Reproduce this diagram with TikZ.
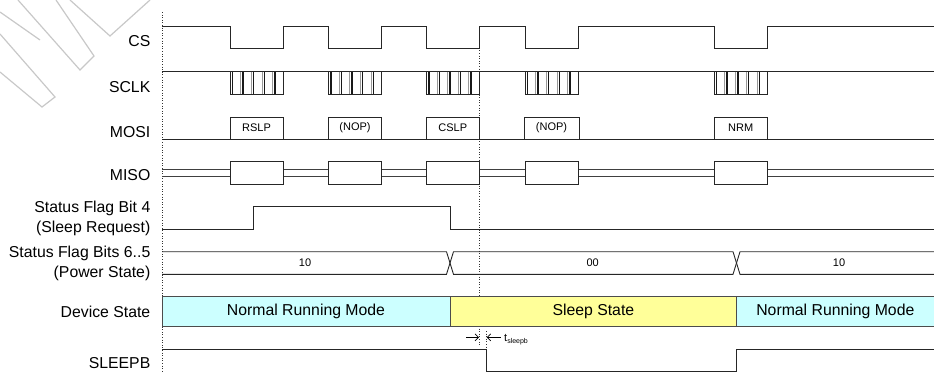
\documentclass[tikz,border=0pt]{standalone}
\usepackage{fontspec}
\setmainfont{Liberation Sans}
\usetikzlibrary{arrows.meta}
\definecolor{runblue}{HTML}{CCFFFF}
\definecolor{sleepyel}{HTML}{FFFF99}
\definecolor{wmgray}{HTML}{C8C8C8}
\begin{document}
\begin{tikzpicture}[x=1pt,y=-1pt,
  sig/.style={line width=0.9pt, draw=black!85},
  thinsig/.style={line width=0.6pt, draw=black!40},
  guide/.style={dotted, line width=0.6pt, draw=black!80},
  lbl/.style={anchor=east, align=right, font=\fontsize{15.8}{20}\selectfont, inner sep=0pt},
  small/.style={font=\fontsize{11}{13}\selectfont, inner sep=0pt},
  cmdbox/.style={draw=black!85, line width=0.9pt, fill=white, minimum height=21.7pt, inner sep=0pt, font=\fontsize{11}{13}\selectfont},
  misobox/.style={draw=black!85, line width=0.9pt, fill=white, minimum height=22.3pt, inner sep=0pt},
  statebox/.style={draw=black!70, line width=0.9pt, minimum height=30pt, inner sep=0pt, font=\fontsize{15.8}{20}\selectfont},
  wm/.style={draw=wmgray, line width=1.2pt, line join=miter}
]
\useasboundingbox (0,0) rectangle (934,372);

% watermark (partial outline letters)
\draw[wm] (0,12) -- (40,40);
\draw[wm] (0,34) -- (55,97) -- (42,107) -- (0,72);
\draw[wm] (18,0) -- (80,70) -- (94,56) -- (56,0);
\draw[wm] (70,0) -- (110,36) -- (150,0);

% labels
\node[lbl] (lcs) at (150.5,41) {CS};
\node[lbl] (lsclk) at (150.5,87) {SCLK};
\node[lbl] (lmosi) at (150.5,132) {MOSI};
\node[lbl] (lmiso) at (150.5,175) {MISO};
\node[lbl] (lsf4) at (150.5,218.3) {Status Flag Bit 4\\(Sleep Request)};
\node[lbl] (lsf65) at (150.5,263) {Status Flag Bits 6..5\\(Power State)};
\node[lbl] (ldev) at (150.5,311.7) {Device State};
\node[lbl] (lslp) at (150.5,362.7) {SLEEPB};

% guide lines
\coordinate (g0a) at (162,12);
\coordinate (g0b) at (162,372);
\draw[guide] (g0a) -- (g0b);
\coordinate (g1a) at (479,27);
\coordinate (g1b) at (479,345);
\draw[guide] (g1a) -- (g1b);
\coordinate (g2a) at (486.7,331);
\coordinate (g2b) at (486.7,349);
\draw[guide] (g2a) -- (g2b);

% CS
\draw[sig] (162,26.7) -- (230,26.7) -- (230,48.7) -- (283,48.7) -- (283,26.7)
  -- (328.5,26.7) -- (328.5,48.7) -- (381.5,48.7) -- (381.5,26.7)
  -- (426.5,26.7) -- (426.5,48.7) -- (479,48.7) -- (479,26.7)
  -- (525,26.7) -- (525,48.7) -- (578,48.7) -- (578,26.7)
  -- (714,26.7) -- (714,48.7) -- (767.5,48.7) -- (767.5,26.7) -- (934,26.7);

% SCLK
\draw[sig] (162,71.7) -- (934,71.7);
\foreach \a/\b in {230/283, 328.5/381.5, 426.5/479, 525/578, 714/767.5} {
  \foreach \k in {0,...,4} {
    \pgfmathsetmacro\xx{\a+\k*(\b-\a)/5}
    \pgfmathsetmacro\xy{\xx+2.4}
    \draw[thinsig] (\xx,71.7) -- (\xx,94);
    \draw[line width=1.4pt, draw=black!90] (\xy,71.7) -- (\xy,94);
  }
  \draw[sig] (\a,71.7) -- (\a,94) -- (\b,94) -- (\b,71.7);
}

% MOSI
\draw[sig] (162,139) -- (934,139);
\node[cmdbox, minimum width=53pt] (rslp) at (256.5,128.15) {RSLP};
\node[cmdbox, minimum width=53pt] (nop1) at (355,128.15) {(NOP)};
\node[cmdbox, minimum width=52.5pt] (cslp) at (452.75,128.15) {CSLP};
\node[cmdbox, minimum width=55pt] (nop2) at (551.5,128.15) {(NOP)};
\node[cmdbox, minimum width=53.5pt] (nrm) at (740.75,128.15) {NRM};

% MISO
\draw[sig, draw=black!75] (162,169) -- (934,169);
\draw[sig, draw=black!75] (162,176.7) -- (934,176.7);
\node[misobox, minimum width=53pt] (mi1) at (256.5,172.85) {};
\node[misobox, minimum width=53pt] (mi2) at (355,172.85) {};
\node[misobox, minimum width=52.5pt] (mi3) at (452.75,172.85) {};
\node[misobox, minimum width=53pt] (mi4) at (551.5,172.85) {};
\node[misobox, minimum width=53.5pt] (mi5) at (740.75,172.85) {};

% Status Flag Bit 4
\draw[sig] (162,229.3) -- (253.3,229.3) -- (253.3,206.7) -- (450,206.7) -- (450,229.3) -- (934,229.3);

% Status Flag Bits 6..5
\draw[sig] (162,251.7) -- (446.5,251.7) -- (453.5,274.3) -- (733,274.3) -- (740,251.7) -- (934,251.7);
\draw[sig] (162,274.3) -- (446.5,274.3) -- (453.5,251.7) -- (733,251.7) -- (740,274.3) -- (934,274.3);
\node[small] (v10a) at (305,263) {10};
\node[small] (v00) at (592.7,263) {00};
\node[small] (v10b) at (839,263) {10};

% Device State
\node[statebox, fill=runblue, minimum width=288pt] (nrm1) at (306,311.7) {Normal Running Mode};
\node[statebox, fill=sleepyel, minimum width=286.7pt] (sleep) at (593.35,311.7) {Sleep State};
\node[statebox, fill=runblue, minimum width=197.3pt] (nrm2) at (835.35,311.7) {Normal Running Mode};

% SLEEPB
\draw[sig] (162,349) -- (486.7,349) -- (486.7,371) -- (736.7,371) -- (736.7,349) -- (934,349);

% t_sleepb
\coordinate (ta) at (466,337.3);
\coordinate (tb) at (500.7,337.3);
\draw[line width=0.7pt, -{Straight Barb[length=3.5pt,width=7pt]}] (ta) -- (g1b |- ta);
\draw[line width=0.7pt, -{Straight Barb[length=3.5pt,width=7pt]}] (tb) -- (g2a |- tb);
\node[anchor=west, inner sep=0pt, font=\fontsize{11}{13}\selectfont] (tsl) at (504,339.5) {t\raisebox{-2.5pt}{\fontsize{7}{8}\selectfont sleepb}};

\end{tikzpicture}
\end{document}
